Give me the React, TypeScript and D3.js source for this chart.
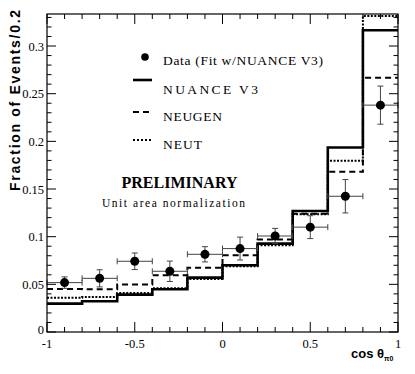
import * as d3 from "d3";

const binEdges = [-1, -0.8, -0.6, -0.4, -0.2, 0, 0.2, 0.4, 0.6, 0.8, 1];
const binCenters = [-0.9, -0.7, -0.5, -0.3, -0.1, 0.1, 0.3, 0.5, 0.7, 0.9];

const dataValues = [0.0518, 0.0563, 0.0742, 0.0637, 0.0815, 0.0875, 0.1007, 0.110, 0.1424, 0.238];
const dataErrors = [0.006, 0.009, 0.0087, 0.0107, 0.008, 0.012, 0.008, 0.012, 0.0175, 0.02];

const nuance = [0.0298, 0.0322, 0.0392, 0.0448, 0.057, 0.070, 0.0927, 0.127, 0.1935, 0.3165];
const neugen = [0.0451, 0.0448, 0.0497, 0.0595, 0.0675, 0.0805, 0.097, 0.124, 0.168, 0.2668];
const neut = [0.036, 0.0367, 0.041, 0.046, 0.0555, 0.069, 0.091, 0.1235, 0.1797, 0.3315];

const xTicks = [-1, -0.5, 0, 0.5, 1];
const yTicks = [0, 0.05, 0.1, 0.15, 0.2, 0.25, 0.3];

const legendLabels = ["Data (Fit w/NUANCE V3)", "NUANCE V3", "NEUGEN", "NEUT"];

const serif = "'Liberation Serif', 'Times New Roman', serif";
const sans = "'Liberation Sans', Arial, sans-serif";

export default function App() {
  const width = 415;
  const height = 374;
  const left = 47;
  const right = 398;
  const top = 14;
  const bottom = 332;

  const x = d3.scaleLinear().domain([-1, 1]).range([left, right]);
  const y = d3.scaleLinear().domain([0, 0.3336]).range([bottom, top]);

  const histPath = (vals: number[]) => {
    const pts: [number, number][] = binEdges.map((e, i) => [e, vals[Math.min(i, vals.length - 1)]]);
    return d3
      .line<[number, number]>()
      .x((d) => x(d[0]))
      .y((d) => y(d[1]))
      .curve(d3.curveStepAfter)(pts) as string;
  };

  const xMinor = d3.range(-1, 1.0001, 0.1).map((v) => +v.toFixed(2));
  const yMinor = d3.range(0, 0.3336, 0.01).map((v) => +v.toFixed(3));

  // legend text widths / baselines as seen in the picture
  const legendWidths = [160, 95, 59, 39];
  const legendBase = [65, 94, 121, 149];

  return (
    <svg
      width={width}
      height={height}
      style={{ position: "absolute", left: 0, top: 0, background: "#fff" }}
    >
      <defs>
        <clipPath id="frame">
          <rect x={left} y={top} width={right - left} height={bottom - top} />
        </clipPath>
      </defs>

      {/* histograms */}
      <g clipPath="url(#frame)" fill="none" stroke="#000">
        <path d={histPath(neut)} strokeWidth={2} strokeDasharray="2,1.5" />
        <path d={histPath(neugen)} strokeWidth={2} strokeDasharray="6,4" />
        <path d={histPath(nuance)} strokeWidth={2.6} />
      </g>

      {/* data points */}
      <g stroke="#444" strokeWidth={1}>
        {binCenters.map((c, i) => {
          const cy = y(dataValues[i]);
          const x0 = x(c - 0.1);
          const x1 = x(c + 0.1);
          const yHi = y(dataValues[i] + dataErrors[i]);
          const yLo = y(dataValues[i] - dataErrors[i]);
          return (
            <g key={c}>
              <line x1={x0} x2={x1} y1={cy} y2={cy} />
              <line x1={x0} x2={x0} y1={cy - 3} y2={cy + 3} />
              <line x1={x1} x2={x1} y1={cy - 3} y2={cy + 3} />
              <line x1={x(c)} x2={x(c)} y1={yHi} y2={yLo} />
              <line x1={x(c) - 3} x2={x(c) + 3} y1={yHi} y2={yHi} />
              <line x1={x(c) - 3} x2={x(c) + 3} y1={yLo} y2={yLo} />
              <circle cx={x(c)} cy={cy} r={4.5} fill="#000" stroke="none" />
            </g>
          );
        })}
      </g>

      {/* frame */}
      <rect x={left} y={top} width={right - left} height={bottom - top} fill="none" stroke="#000" strokeWidth={1.2} />

      {/* ticks */}
      <g stroke="#000" strokeWidth={1}>
        {xMinor.map((v) => {
          const major = xTicks.some((t) => Math.abs(t - v) < 1e-6);
          const len = major ? 10 : 5;
          return (
            <g key={"x" + v}>
              <line x1={x(v)} x2={x(v)} y1={bottom} y2={bottom - len} />
              <line x1={x(v)} x2={x(v)} y1={top} y2={top + len} />
            </g>
          );
        })}
        {yMinor.map((v) => {
          const major = yTicks.some((t) => Math.abs(t - v) < 1e-6);
          const len = major ? 9 : 4.5;
          return (
            <g key={"y" + v}>
              <line x1={left} x2={left + len} y1={y(v)} y2={y(v)} />
              <line x1={right} x2={right - len} y1={y(v)} y2={y(v)} />
            </g>
          );
        })}
      </g>

      {/* tick labels */}
      <g fontFamily={serif} fontSize={12.5} fill="#000">
        {xTicks.map((t) => (
          <text key={"xl" + t} x={x(t)} y={bottom + 16} textAnchor="middle">
            {t === 0 ? "0" : String(t)}
          </text>
        ))}
        {yTicks.map((t) => (
          <text key={"yl" + t} x={left - 3} y={y(t) + (t === 0 ? 2 : 4.5)} textAnchor="end">
            {t === 0 ? "0" : String(t)}
          </text>
        ))}
      </g>

      {/* axis titles */}
      <text
        transform={`translate(20, 10) rotate(-90)`}
        textAnchor="end"
        fontFamily={sans}
        fontWeight="bold"
        fontSize={14}
        textLength={181}
        lengthAdjust="spacing"
      >
        Fraction of Events/0.2
      </text>
      <text x={351} y={358} fontFamily={sans} fontWeight="bold" fontSize={13}>
        cos θ
        <tspan fontSize={7} dy={3}>π0</tspan>
      </text>

      {/* legend */}
      <g fontFamily={serif} fontSize={13.5} fill="#000">
        <circle cx={145} cy={57} r={3.8} fill="#000" />
        <line x1={133} x2={152} y1={80} y2={80} stroke="#000" strokeWidth={2.6} />
        <line x1={133} x2={152} y1={112} y2={112} stroke="#000" strokeWidth={2} strokeDasharray="6,4" />
        <line x1={133} x2={152} y1={140} y2={140} stroke="#000" strokeWidth={2} strokeDasharray="2,2" />
        {legendLabels.map((l, i) => (
          <text key={l} x={163} y={legendBase[i]} textLength={legendWidths[i]} lengthAdjust="spacing">
            {l}
          </text>
        ))}
        <text x={121.5} y={188} fontWeight="bold" fontSize={16} textLength={116} lengthAdjust="spacing">
          PRELIMINARY
        </text>
        <text x={102} y={206.5} fontSize={11.5} textLength={143} lengthAdjust="spacing">
          Unit area normalization
        </text>
      </g>
    </svg>
  );
}
